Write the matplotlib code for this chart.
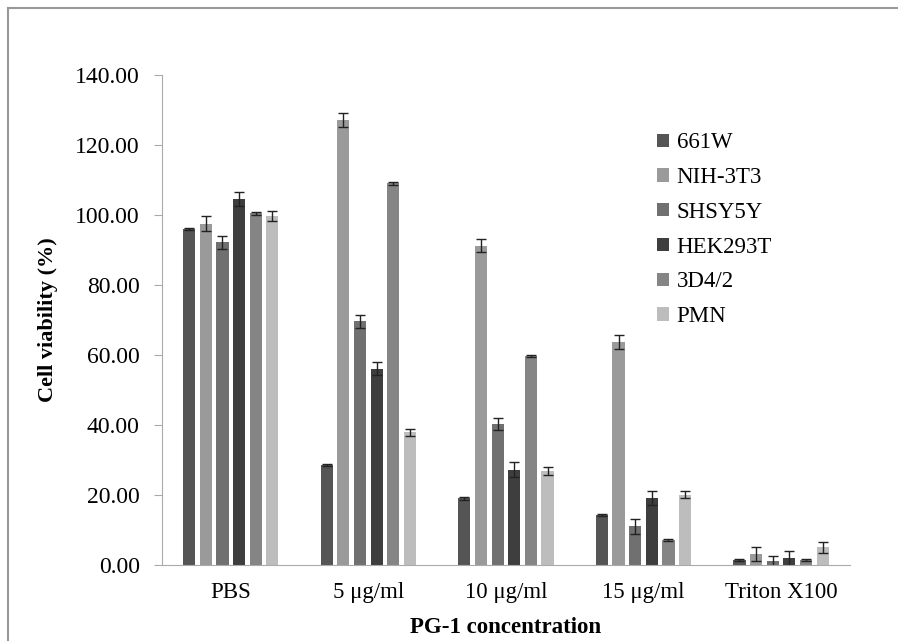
import numpy as np
import matplotlib.pyplot as plt
from matplotlib.lines import Line2D

categories = ['PBS', '5 μg/ml', '10 μg/ml', '15 μg/ml', 'Triton X100']
series = ['661W', 'NIH-3T3', 'SHSY5Y', 'HEK293T', '3D4/2', 'PMN']

v_661w = [96.0, 28.5, 19.0, 14.3, 1.5]
v_nih = [97.5, 127.2, 91.2, 63.6, 3.0]
v_shsy = [92.2, 69.6, 40.3, 11.0, 1.0]
v_hek = [104.6, 56.1, 27.2, 19.0, 2.0]
v_3d4 = [100.5, 109.0, 59.8, 7.2, 1.5]
v_pmn = [99.7, 37.9, 26.8, 20.0, 5.0]

e_661w = [0.3, 0.3, 0.3, 0.3, 0.3]
e_nih = [2.2, 2.0, 1.8, 2.0, 2.0]
e_shsy = [1.8, 1.8, 1.8, 2.2, 1.6]
e_hek = [2.0, 1.8, 2.2, 2.0, 2.0]
e_3d4 = [0.4, 0.4, 0.3, 0.3, 0.3]
e_pmn = [1.5, 1.0, 1.2, 1.0, 1.5]

values = [v_661w, v_nih, v_shsy, v_hek, v_3d4, v_pmn]
errors = [e_661w, e_nih, e_shsy, e_hek, e_3d4, e_pmn]
colors = ['#555555', '#9a9a9a', '#707070', '#3e3e3e', '#858585', '#bdbdbd']

plt.rcParams['font.family'] = ['Liberation Serif', 'DejaVu Serif']

fig = plt.figure(figsize=(8.98, 6.41), dpi=100)
ax = fig.add_axes([0.1804, 0.1186, 0.766, 0.7644])

x = np.arange(len(categories))
pitch = 0.121
width = 0.088
for i, (name, vals, errs, c) in enumerate(zip(series, values, errors, colors)):
	pos = x + (i - 2.5) * pitch
	ax.bar(pos, vals, width, color=c, label=name, edgecolor='none')
	ax.errorbar(pos, vals, yerr=errs, fmt='none', ecolor='#222222', elinewidth=1, capsize=3.5, capthick=1)

ax.set_xlim(-0.5, len(categories) - 0.5)
ax.set_ylim(0, 140)
ax.set_yticks(np.arange(0, 141, 20))
ax.set_yticklabels(['%.2f' % t for t in np.arange(0, 141, 20)], fontsize=17)
ax.set_xticks(x)
ax.set_xticklabels(categories, fontsize=16.5)
ax.tick_params(axis='x', length=0, pad=12)
ax.tick_params(axis='y', length=6, color='#aaaaaa', pad=10, direction='out')

for s in ['top', 'right']:
	ax.spines[s].set_visible(False)
for s in ['left', 'bottom']:
	ax.spines[s].set_color('#aaaaaa')

ax.set_ylabel('Cell viability (%)', fontsize=16, fontweight='bold', labelpad=12)
ax.set_xlabel('PG-1 concentration', fontsize=16.5, fontweight='bold', labelpad=10)

ax.legend(loc='upper left', bbox_to_anchor=(0.69, 0.925), frameon=False, fontsize=16.5,
	handlelength=0.5, handleheight=0.5, handletextpad=0.35, labelspacing=0.6)

# outer frame
fig.add_artist(Line2D([8 / 898, 8 / 898], [0, 1 - 8 / 641], color='#999999', lw=1.5))
fig.add_artist(Line2D([8 / 898, 1], [1 - 8 / 641, 1 - 8 / 641], color='#999999', lw=1.5))

fig.savefig('out.png', dpi=100)
